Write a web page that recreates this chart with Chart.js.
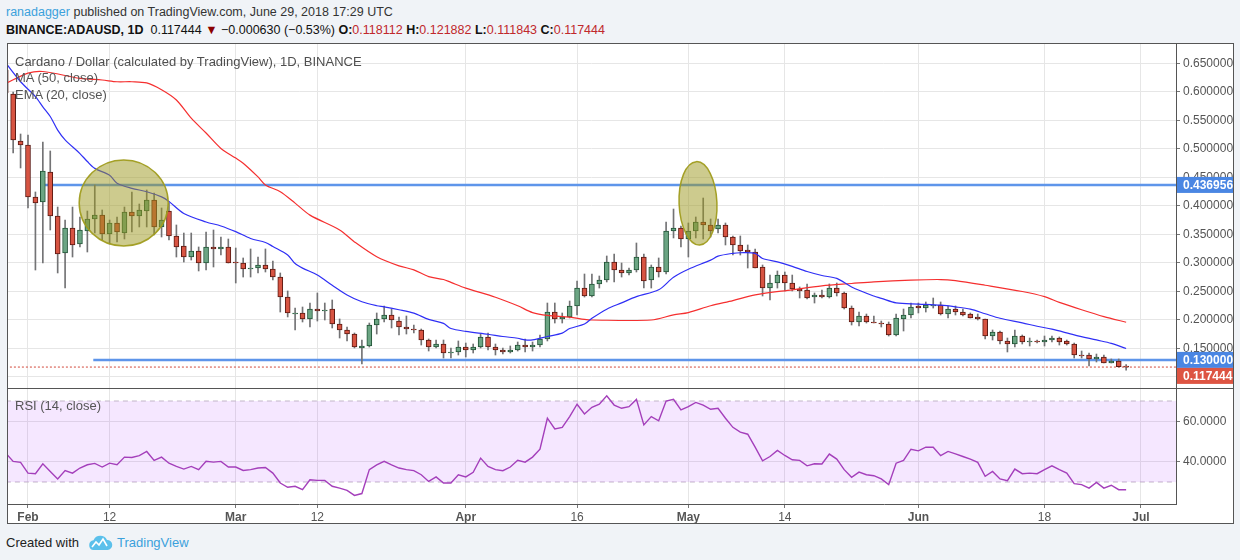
<!DOCTYPE html>
<html>
<head>
<meta charset="utf-8">
<script src="https://cdn.jsdelivr.net/npm/chart.js@4.4.0/dist/chart.umd.min.js"></script>
<style>
  body { margin:0; width:1240px; height:560px; background:#f0f3f7; position:relative; overflow:hidden;
         font-family:"Liberation Sans", Arial, sans-serif; }
  .t { position:absolute; white-space:nowrap; font-size:13px; line-height:15px; }
  .h { font-size:12.5px; }
  .ln { position:absolute; background:#555; }
  canvas { position:absolute; }
  .up { color:#c0282b; }
</style>
</head>
<body>
<div class="t h" style="left:6px; top:5px; color:#333"><span style="color:#3ba1dc">ranadagger</span> published on TradingView.com, June 29, 2018 17:29 UTC</div>
<div class="t h" style="left:6px; top:23px; color:#111"><b>BINANCE:ADAUSD, 1D</b>&nbsp; 0.117444 <span style="color:#8b0000">▼</span> −0.000630 (−0.53%) <b>O:</b><span class="up">0.118112</span> <b>H:</b><span class="up">0.121882</span> <b>L:</b><span class="up">0.111843</span> <b>C:</b><span class="up">0.117444</span></div>

<div style="position:absolute; left:7px; top:43px; width:1226px; height:480px; background:#fff"></div>
<canvas id="price" width="1226" height="344" style="left:7px; top:44px"></canvas>
<canvas id="rsi" width="1226" height="134" style="left:7px; top:389px"></canvas>

<div class="ln" style="left:7px; top:43px; width:1227px; height:1px"></div>
<div class="ln" style="left:7px; top:43px; width:1px; height:481px"></div>
<div class="ln" style="left:1233px; top:43px; width:1px; height:481px"></div>
<div class="ln" style="left:7px; top:523px; width:1227px; height:1px"></div>
<div class="ln" style="left:7px; top:388px; width:1227px; height:1px"></div>

<div class="t" style="left:15px; top:54px; color:#4f4f4f">Cardano / Dollar (calculated by TradingView), 1D, BINANCE</div>
<div class="t" style="left:15px; top:70px; color:#555">MA (50, close)</div>
<div class="t" style="left:15px; top:87px; color:#555">EMA (20, close)</div>
<div class="t" style="left:15px; top:398px; color:#555">RSI (14, close)</div>

<div class="t" style="left:6px; top:535px; color:#222">Created with</div>
<svg style="position:absolute; left:87px; top:534px" width="26" height="18" viewBox="0 0 26 18">
  <path d="M6 16 a5 5 0 0 1 0.5-9.8 A7.5 7.5 0 0 1 20 6 a5 5 0 0 1 0.5 10 z" fill="#5bc0eb"/>
  <polyline points="5,13 9,8 12,11 16,5 20,12" fill="none" stroke="#fff" stroke-width="1.6"/>
</svg>
<div class="t" style="left:117px; top:535px; color:#3ba1dc">TradingView</div>

<script>
const FONT = '"Liberation Sans", Arial, sans-serif';

// daily candles, Jan 29 .. Jun 29 2018 (day 0 = Feb 1)
const firstDay = -3;
const opens = [0.6386,0.5965,0.5140,0.5070,0.4158,0.4070,0.4596,0.3825,0.3175,0.3614,
  0.3333,0.3561,0.3772,0.3842,0.3509,0.3702,0.3526,0.3895,0.3825,0.3912,
  0.4105,0.3632,0.3912,0.3474,0.3298,0.3105,0.3211,0.3000,0.3281,0.3246,
  0.3281,0.3017,0.3000,0.2895,0.2912,0.2965,0.2895,0.2754,0.2403,0.2105,
  0.2123,0.2018,0.2193,0.2158,0.2193,0.1930,0.1825,0.1754,0.1509,0.1544,
  0.1912,0.2018,0.2088,0.1982,0.1877,0.1842,0.1825,0.1649,0.1526,0.1579,
  0.1421,0.1439,0.1526,0.1474,0.1526,0.1702,0.1526,0.1474,0.1439,0.1474,
  0.1561,0.1526,0.1561,0.1667,0.2140,0.2018,0.2053,0.2246,0.2561,0.2421,
  0.2632,0.2702,0.3017,0.2877,0.2825,0.2877,0.3105,0.2702,0.2930,0.2842,
  0.3561,0.3614,0.3421,0.3561,0.3719,0.3667,0.3596,0.3667,0.3456,0.3316,
  0.3228,0.3193,0.2930,0.2561,0.2649,0.2789,0.2649,0.2544,0.2526,0.2403,
  0.2439,0.2403,0.2561,0.2474,0.2210,0.1965,0.2070,0.1965,0.1947,0.1930,
  0.1737,0.2018,0.2088,0.2246,0.2210,0.2246,0.2263,0.2105,0.2193,0.2140,
  0.2105,0.2053,0.2018,0.1719,0.1789,0.1632,0.1579,0.1719,0.1614,0.1632,
  0.1614,0.1649,0.1684,0.1632,0.1579,0.1386,0.1386,0.1316,0.1351,0.1246,
  0.1281,0.1181];
const highs = [0.6480,0.6000,0.5263,0.5246,0.4246,0.5123,0.4965,0.3982,0.3754,0.3982,
  0.3807,0.3912,0.4368,0.3930,0.3754,0.3807,0.3982,0.4246,0.4035,0.4281,
  0.4228,0.3965,0.4053,0.3667,0.3526,0.3526,0.3281,0.3544,0.3579,0.3456,
  0.3421,0.3263,0.3088,0.3246,0.3105,0.3246,0.3035,0.2825,0.2509,0.2210,
  0.2228,0.2298,0.2474,0.2298,0.2351,0.2018,0.1877,0.1772,0.1649,0.1947,
  0.2123,0.2246,0.2193,0.2053,0.2070,0.1912,0.1842,0.1667,0.1649,0.1649,
  0.1509,0.1632,0.1596,0.1579,0.1754,0.1772,0.1579,0.1509,0.1544,0.1614,
  0.1667,0.1614,0.1737,0.2298,0.2298,0.2123,0.2333,0.2684,0.2807,0.2807,
  0.2772,0.3123,0.3158,0.3000,0.2912,0.3351,0.3158,0.2965,0.3088,0.3719,
  0.3947,0.3649,0.3702,0.3807,0.4140,0.3772,0.3772,0.3702,0.3474,0.3474,
  0.3316,0.3246,0.2965,0.2789,0.2860,0.2842,0.2789,0.2579,0.2632,0.2474,
  0.2526,0.2632,0.2649,0.2491,0.2246,0.2140,0.2105,0.2070,0.1982,0.1965,
  0.2105,0.2193,0.2298,0.2298,0.2316,0.2386,0.2316,0.2246,0.2246,0.2193,
  0.2123,0.2105,0.2018,0.1825,0.1807,0.1684,0.1825,0.1737,0.1684,0.1649,
  0.1719,0.1719,0.1702,0.1649,0.1596,0.1456,0.1421,0.1403,0.1386,0.1316,
  0.1316,0.1219];
const lows = [0.5950,0.4930,0.4667,0.3965,0.2877,0.3000,0.3579,0.2825,0.2561,0.3105,
  0.3281,0.3193,0.3526,0.3403,0.3333,0.3368,0.3421,0.3544,0.3632,0.3632,
  0.3491,0.3456,0.3403,0.3105,0.3017,0.3052,0.2860,0.2877,0.2930,0.3140,
  0.3000,0.2649,0.2754,0.2754,0.2825,0.2842,0.2702,0.2140,0.2053,0.1825,
  0.1965,0.1877,0.1982,0.2000,0.1860,0.1684,0.1632,0.1509,0.1228,0.1526,
  0.1754,0.1965,0.1860,0.1737,0.1754,0.1772,0.1561,0.1456,0.1509,0.1333,
  0.1333,0.1386,0.1351,0.1421,0.1509,0.1474,0.1386,0.1403,0.1421,0.1456,
  0.1439,0.1456,0.1526,0.1632,0.1947,0.1947,0.2035,0.2088,0.2403,0.2403,
  0.2561,0.2667,0.2667,0.2754,0.2789,0.2842,0.2561,0.2561,0.2754,0.2807,
  0.3439,0.3281,0.3105,0.3439,0.3421,0.3456,0.3526,0.3316,0.3140,0.3140,
  0.2912,0.2912,0.2421,0.2351,0.2561,0.2509,0.2509,0.2386,0.2368,0.2298,
  0.2386,0.2386,0.2421,0.2193,0.1912,0.1895,0.1947,0.1947,0.1877,0.1719,
  0.1719,0.1807,0.2035,0.2123,0.2140,0.2210,0.2088,0.2035,0.2088,0.2070,
  0.2035,0.2000,0.1667,0.1649,0.1579,0.1439,0.1526,0.1579,0.1544,0.1596,
  0.1544,0.1614,0.1561,0.1561,0.1333,0.1333,0.1193,0.1263,0.1246,0.1246,
  0.1175,0.1118];
const closes = [0.5982,0.5158,0.5070,0.4158,0.4053,0.4614,0.3825,0.3158,0.3614,0.3316,
  0.3579,0.3772,0.3842,0.3509,0.3702,0.3544,0.3895,0.3825,0.3930,0.4105,
  0.3632,0.3754,0.3474,0.3281,0.3105,0.3211,0.3000,0.3281,0.3246,0.3281,
  0.3000,0.3000,0.2895,0.2912,0.2965,0.2895,0.2754,0.2403,0.2123,0.2123,
  0.2018,0.2193,0.2158,0.2175,0.1930,0.1825,0.1754,0.1526,0.1544,0.1912,
  0.2018,0.2088,0.2000,0.1877,0.1842,0.1825,0.1649,0.1526,0.1579,0.1421,
  0.1439,0.1526,0.1474,0.1526,0.1702,0.1526,0.1474,0.1439,0.1474,0.1561,
  0.1526,0.1561,0.1667,0.2140,0.2018,0.2053,0.2246,0.2561,0.2421,0.2632,
  0.2702,0.3017,0.2877,0.2825,0.2877,0.3105,0.2684,0.2930,0.2842,0.3561,
  0.3614,0.3421,0.3561,0.3719,0.3667,0.3561,0.3667,0.3456,0.3316,0.3211,
  0.3193,0.2912,0.2561,0.2649,0.2789,0.2649,0.2544,0.2509,0.2386,0.2439,
  0.2403,0.2561,0.2474,0.2210,0.1965,0.2070,0.1965,0.1947,0.1930,0.1737,
  0.2035,0.2088,0.2228,0.2210,0.2263,0.2263,0.2105,0.2193,0.2140,0.2088,
  0.2035,0.2018,0.1719,0.1789,0.1632,0.1579,0.1719,0.1614,0.1632,0.1614,
  0.1649,0.1684,0.1614,0.1579,0.1386,0.1368,0.1316,0.1351,0.1246,0.1281,
  0.1181,0.1174];

const rsiValues = [44.3,40.2,39.7,34.4,34.1,39.0,35.2,31.5,35.7,34.4,
  36.9,38.5,39.2,37.4,39.3,38.5,42.3,42.1,43.0,45.1,
  40.7,42.3,39.3,37.7,36.4,37.7,36.1,40.2,39.8,40.2,
  37.4,37.4,35.7,36.1,36.9,37.2,34.4,29.5,27.4,27.9,
  26.2,31.1,30.8,30.8,27.9,27.0,25.9,23.4,24.3,36.1,
  38.5,40.2,38.5,36.9,36.1,35.6,33.6,30.3,32.5,29.5,
  29.5,33.6,32.5,34.8,41.8,37.7,36.1,35.6,37.4,40.7,
  39.8,42.3,46.2,61.5,56.2,57.0,62.3,68.4,63.6,66.9,
  68.4,72.6,68.0,66.4,67.2,70.8,58.2,62.3,60.2,70.0,
  70.8,65.6,67.2,69.3,68.0,65.9,66.4,61.5,57.0,54.6,
  53.6,47.2,40.5,42.6,45.6,43.1,41.0,40.7,38.0,39.0,
  38.9,43.8,41.3,36.1,32.3,34.9,33.6,33.1,31.5,28.7,
  39.3,40.7,46.2,45.4,47.2,47.2,43.0,45.1,43.9,42.6,
  41.3,39.7,32.8,35.2,31.5,30.7,36.4,34.1,34.4,34.1,
  36.1,38.0,36.1,34.4,29.2,28.7,27.0,29.8,27.0,28.4,
  26.2,26.2];

// MA (50)
const maDays = [-3,0,2,7,10,12,14,16,18,20,22,24,26,28,29,31,32,34,36,38,42,44,47,50,52,
  54,56,57,59,63,66,68,70,73,75,76,84,87,89,92,95,98,103,107,111,114,119,123,125,129,
  134,137,139,142,145,148];
const maValues = [0.615,0.633,0.636,0.624,0.621,0.618,0.618,0.616,0.604,0.586,0.554,0.528,0.501,
  0.484,0.475,0.451,0.437,0.425,0.405,0.384,0.358,0.337,0.311,0.295,0.288,0.276,0.271,0.266,
  0.256,0.240,0.225,0.213,0.208,0.205,0.201,0.200,0.200,0.209,0.213,0.225,0.234,0.244,0.253,
  0.260,0.264,0.267,0.270,0.271,0.269,0.261,0.250,0.241,0.231,0.218,0.206,0.196];

// EMA (20)
const emaDays = [-3,-1,1,2,3,4,5,7,8,9,11,12,14,16,18,19,21,24,26,28,30,32,33,35,36,37,39,41,
  43,45,47,48,50,52,54,56,57,59,62,64,66,67,68,70,72,73,75,76,78,80,82,85,87,89,92,93,95,96,
  98,99,101,103,105,107,109,111,114,115,117,120,123,125,127,129,131,134,136,138,141,144,146,148];
const emaValues = [0.651,0.618,0.592,0.574,0.557,0.533,0.516,0.492,0.478,0.466,0.454,0.440,0.431,
  0.425,0.416,0.408,0.387,0.372,0.365,0.355,0.343,0.336,0.329,0.314,0.299,0.291,0.279,0.261,
  0.244,0.232,0.225,0.223,0.218,0.212,0.201,0.194,0.185,0.180,0.175,0.171,0.168,0.165,0.165,
  0.171,0.177,0.185,0.193,0.203,0.219,0.230,0.241,0.253,0.275,0.289,0.305,0.312,0.317,0.318,
  0.317,0.308,0.302,0.294,0.285,0.278,0.273,0.258,0.242,0.238,0.230,0.228,0.226,0.223,0.219,
  0.211,0.203,0.195,0.189,0.184,0.174,0.165,0.159,0.150];

const tickDays = [0, 11, 28, 39, 59, 74, 89, 102, 120, 137, 150];
const tickLabels = ['Feb', '12', 'Mar', '12', 'Apr', '16', 'May', '14', 'Jun', '18', 'Jul'];
const priceTicks = [0.10, 0.15, 0.20, 0.25, 0.30, 0.35, 0.40, 0.45, 0.50, 0.55, 0.60, 0.65];
const rsiTicks = [40, 60];

const resistance = 0.436956;
const support = 0.130000;
const lastPrice = 0.117444;
const resistanceFrom = 2.3;
const supportFrom = 8.8;

// highlighted zones (ellipses), in data units
const zones = [
  { day: 12.9, price: 0.4053, rDays: 6.0, rPrice: 0.0754, tilt: 0 },
  { day: 90.3, price: 0.4047, rDays: 2.55, rPrice: 0.0732, tilt: -0.04 }
];

const xMin = -2.83, xMax = 154.72;

const days = opens.map((_, i) => firstDay + i);
const isUp = opens.map((o, i) => closes[i] >= o);
const pts = (xs, ys) => xs.map((x, i) => ({ x: x, y: ys[i] }));

const zonePlugin = {
  id: 'zones',
  afterDatasetsDraw(chart) {
    const { ctx, chartArea: a, scales: { x, y } } = chart;
    ctx.save();
    ctx.beginPath();
    ctx.rect(a.left, a.top, a.right - a.left, a.bottom - a.top);
    ctx.clip();
    zones.forEach(z => {
      const cx = x.getPixelForValue(z.day), cy = y.getPixelForValue(z.price);
      const rx = Math.abs(x.getPixelForValue(z.day + z.rDays) - cx);
      const ry = Math.abs(y.getPixelForValue(z.price + z.rPrice) - cy);
      ctx.beginPath();
      ctx.ellipse(cx, cy, rx, ry, z.tilt, 0, Math.PI * 2);
      ctx.fillStyle = 'rgba(155,152,30,0.5)';
      ctx.fill();
      ctx.strokeStyle = 'rgba(160,156,30,0.95)';
      ctx.lineWidth = 1.5;
      ctx.stroke();
    });
    ctx.restore();
  }
};

const boxPlugin = {
  id: 'priceBoxes',
  afterDraw(chart) {
    const { ctx, chartArea: a, scales: { y } } = chart;
    const marks = [
      { v: resistance, c: '#4a86e3' },
      { v: support, c: '#4a86e3' },
      { v: lastPrice, c: '#dd5442' }
    ];
    const h = 16;
    let prevBottom = -Infinity;
    ctx.save();
    ctx.font = 'bold 12px ' + FONT;
    ctx.textBaseline = 'middle';
    marks.forEach(m => {
      let cy = y.getPixelForValue(m.v);
      if (cy - h / 2 < prevBottom) cy = prevBottom + h / 2;
      ctx.fillStyle = m.c;
      ctx.fillRect(a.right + 1, cy - h / 2, chart.width - a.right - 1, h);
      ctx.fillStyle = '#fff';
      ctx.fillText(m.v.toFixed(6), a.right + 7, cy + 1);
      prevBottom = cy + h / 2;
    });
    ctx.restore();
  }
};

const noPad = s => { s.paddingTop = 0; s.paddingBottom = 0; s.paddingLeft = 0; s.paddingRight = 0; };

new Chart(document.getElementById('price'), {
  type: 'line',
  data: {
    datasets: [
      { type: 'line', data: pts(emaDays, emaValues), borderColor: '#2f2ff5', borderWidth: 1.2,
        pointRadius: 0, tension: 0.3, order: 1 },
      { type: 'line', data: pts(maDays, maValues), borderColor: '#f52f2f', borderWidth: 1.2,
        pointRadius: 0, tension: 0.3, order: 1 },
      { type: 'line', data: [{ x: resistanceFrom, y: resistance }, { x: xMax + 5, y: resistance }],
        borderColor: '#5e95ea', borderWidth: 2.5, pointRadius: 0, order: 4 },
      { type: 'line', data: [{ x: supportFrom, y: support }, { x: xMax + 5, y: support }],
        borderColor: '#5e95ea', borderWidth: 2.5, pointRadius: 0, order: 4 },
      { type: 'line', data: [{ x: xMin - 5, y: lastPrice }, { x: xMax + 5, y: lastPrice }],
        borderColor: '#d2483a', borderWidth: 1, borderDash: [2, 2], pointRadius: 0, order: 5 },
      { type: 'bar', data: days.map((d, i) => ({ x: d, y: [opens[i], closes[i]] })),
        backgroundColor: c => isUp[c.dataIndex] ? '#6ba583' : '#d75442',
        borderColor: c => isUp[c.dataIndex] ? '#225437' : '#5b1a13',
        borderWidth: 1, borderSkipped: false, barThickness: 5, minBarLength: 1,
        grouped: false, order: 2 },
      { type: 'bar', data: days.map((d, i) => ({ x: d, y: [lows[i], highs[i]] })),
        backgroundColor: '#737375', barThickness: 1, grouped: false, order: 3 }
    ]
  },
  options: {
    responsive: false, animation: false, events: [], devicePixelRatio: 1,
    layout: { padding: 0 },
    plugins: { legend: { display: false }, tooltip: { enabled: false } },
    scales: {
      x: {
        type: 'linear', min: xMin, max: xMax, offset: false,
        afterBuildTicks: s => { s.ticks = tickDays.map(v => ({ value: v })); },
        ticks: { display: false },
        grid: { color: '#e6e6e6', drawTicks: false, offset: false },
        border: { display: false },
        afterFit: s => { s.height = 0; noPad(s); }
      },
      y: {
        position: 'right', min: 0.0807, max: 0.6842,
        afterBuildTicks: s => { s.ticks = priceTicks.map(v => ({ value: v })); },
        ticks: { callback: v => v.toFixed(6), color: '#555', padding: 3, font: { size: 12, family: FONT } },
        grid: { color: '#e6e6e6', tickLength: 4, tickColor: '#777' },
        border: { color: '#555' },
        afterFit: s => { s.width = 57; noPad(s); }
      }
    }
  },
  plugins: [zonePlugin, boxPlugin]
});

new Chart(document.getElementById('rsi'), {
  type: 'line',
  data: {
    datasets: [
      { data: pts(days, rsiValues), borderColor: '#a43fbb', borderWidth: 1.4, pointRadius: 0, order: 0 },
      { data: [{ x: xMin - 5, y: 70 }, { x: xMax + 5, y: 70 }], borderColor: '#c2b6c8', borderWidth: 1,
        borderDash: [5, 4], pointRadius: 0, fill: '+1', backgroundColor: 'rgba(153,21,255,0.1)', order: 2 },
      { data: [{ x: xMin - 5, y: 30 }, { x: xMax + 5, y: 30 }], borderColor: '#c2b6c8', borderWidth: 1,
        borderDash: [5, 4], pointRadius: 0, order: 2 }
    ]
  },
  options: {
    responsive: false, animation: false, events: [], devicePixelRatio: 1,
    layout: { padding: 0 },
    plugins: { legend: { display: false }, tooltip: { enabled: false } },
    scales: {
      x: {
        type: 'linear', min: xMin, max: xMax, offset: false,
        afterBuildTicks: s => { s.ticks = tickDays.map(v => ({ value: v })); },
        ticks: {
          autoSkip: false, maxRotation: 0, padding: 2, color: '#555',
          callback: (v, i) => tickLabels[i],
          font: c => ({ size: 12, family: FONT, weight: /\d/.test(tickLabels[c.index]) ? 'normal' : 'bold' })
        },
        grid: { color: '#e6e6e6', tickLength: 4, tickColor: '#777', offset: false },
        border: { color: '#555' },
        afterFit: s => { s.height = 19; noPad(s); }
      },
      y: {
        position: 'right', min: 19.14, max: 75.93,
        afterBuildTicks: s => { s.ticks = rsiTicks.map(v => ({ value: v })); },
        ticks: { callback: v => v.toFixed(4), color: '#555', padding: 3, font: { size: 12, family: FONT } },
        grid: { color: '#e6e6e6', tickLength: 4, tickColor: '#777' },
        border: { color: '#555' },
        afterFit: s => { s.width = 57; noPad(s); }
      }
    }
  }
});
</script>
</body>
</html>
